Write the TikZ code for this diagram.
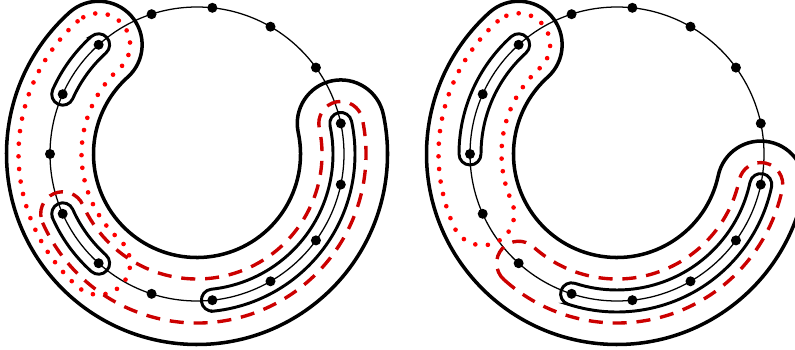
\documentclass[tikz,border=0pt]{standalone}
\usepackage{tikz}
\definecolor{dotred}{HTML}{FF0000}
\definecolor{dashred}{HTML}{CC0000}
% closed band around the ring: half width, from angle, to angle
\newcommand\ringband[3]{++(#2:{147+#1}) arc[start angle=#2,end angle=#3,radius={147+#1}]
  arc[start angle=#3,end angle={#3+180},radius=#1]
  arc[start angle=#3,end angle=#2,radius={147-#1}]
  arc[start angle={#2+180},end angle={#2+360},radius=#1] -- cycle}

\begin{document}
\begin{tikzpicture}[x=0.025cm,y=0.025cm,
  ring/.style={line width=0.9pt},
  outline/.style={line width=2.5pt},
  slim/.style={line width=2.1pt},
  dotband/.style={dotred,line width=3.3pt,line cap=round,dash pattern=on 0pt off 9pt},
  dashband/.style={dashred,line width=2.4pt,dash pattern=on 10pt off 7pt}]
  \useasboundingbox (0,0) rectangle (795,349);
  % left ring
  \begin{scope}[shift={(197,195)}]
    \draw[ring] (0,0) circle (147);
    \foreach \k in {0,...,14}{
      \coordinate (a\k) at (180-24*\k:147);
      \fill (a\k) circle (5);}
    \draw[outline] (0,0) \ringband{43.5}{132}{372};
    \draw[dotband] (0,0) \ringband{31.5}{132}{228};
    \draw[dashband] (0,0) \ringband{22}{204}{372};
    \foreach \s/\e in {132/156,204/228,276/372}
      \draw[slim] (0,0) \ringband{11}{\s}{\e};
  \end{scope}
  % right ring
  \begin{scope}[shift={(617,195)}]
    \draw[ring] (0,0) circle (147);
    \foreach \k in {0,...,14}{
      \coordinate (b\k) at (180-24*\k:147);
      \fill (b\k) circle (5);}
    \draw[outline] (0,0) \ringband{43.5}{132}{348};
    \draw[dotband] (0,0) \ringband{31.5}{132}{204};
    \draw[dashband] (0,0) \ringband{22}{228}{348};
    \foreach \s/\e in {132/180,252/348}
      \draw[slim] (0,0) \ringband{11}{\s}{\e};
  \end{scope}
\end{tikzpicture}
\end{document}
